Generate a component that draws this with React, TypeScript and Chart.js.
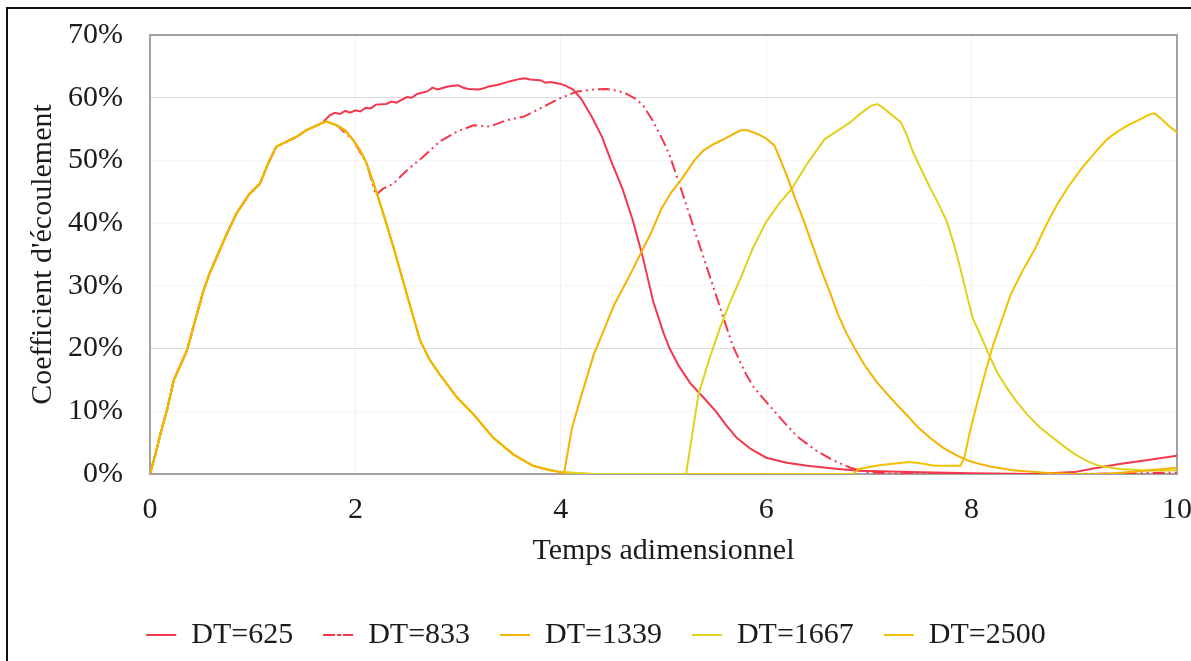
import React, { useEffect, useRef } from 'react';
import { Chart, registerables } from 'chart.js';

Chart.register(...registerables);

// ---- Labels & ticks ----
const seriesLabels = ['DT=625', 'DT=833', 'DT=1339', 'DT=1667', 'DT=2500'];
const seriesColors = ['#F4374C', '#F4374C', '#F3B300', '#E2D01E', '#F2C200'];
const xTickValues = [0, 2, 4, 6, 8, 10];
const xTickLabels = ['0', '2', '4', '6', '8', '10'];
const yTickValues = [0, 10, 20, 30, 40, 50, 60, 70];
const yTickLabels = ['0%', '10%', '20%', '30%', '40%', '50%', '60%', '70%'];
const xTitle = 'Temps adimensionnel';
const yTitle = "Coefficient d'écoulement";

// ---- Common initial rise (shared by all runs) ----
const riseX = [0, 0.05, 0.1, 0.17, 0.23, 0.3, 0.36, 0.44, 0.52, 0.58, 0.65, 0.74, 0.84, 0.97, 1.07, 1.15, 1.23, 1.33, 1.43, 1.52, 1.6, 1.68];
const riseY = [0, 3, 6.3, 10.5, 14.9, 17.5, 19.7, 24.5, 29.2, 32, 34.6, 38, 41.5, 44.7, 46.3, 49.5, 52.2, 53, 53.8, 54.8, 55.4, 56];

// ---- Common recession (DT=1339, 1667, 2500) ----
const fallX = [1.72, 1.82, 1.9, 1.98, 2.05, 2.11, 2.21, 2.3, 2.37, 2.5, 2.63, 2.72, 2.82, 2.99, 3.15, 3.34, 3.54, 3.73, 3.9, 4.0];
const fallY = [56.2, 55.6, 54.8, 53.2, 51.5, 49.5, 44.7, 40, 36.2, 28.7, 21.3, 18.3, 15.9, 12.2, 9.5, 5.8, 3.1, 1.3, 0.6, 0.3];

// ---- DT=625 ----
const dt625X = [1.75, 1.8, 1.85, 1.9, 1.95, 2.0, 2.05, 2.1, 2.15, 2.2, 2.3, 2.35, 2.4, 2.5, 2.55, 2.6, 2.7, 2.75, 2.8, 2.9, 3.0, 3.05, 3.1, 3.2, 3.25, 3.3, 3.4, 3.5, 3.6, 3.65, 3.7, 3.8, 3.85, 3.9, 4.0, 4.05, 4.12, 4.2, 4.3, 4.4, 4.5, 4.6, 4.7, 4.8, 4.9, 5.0, 5.06, 5.15, 5.26, 5.4, 5.51, 5.6, 5.71, 5.85, 6.0, 6.2, 6.4, 6.7, 6.9, 7.4, 8.0, 8.6, 9.0, 9.2, 9.44, 9.7, 10];
const dt625Y = [57.2, 57.6, 57.4, 57.9, 57.6, 58.0, 57.8, 58.4, 58.3, 58.9, 59.0, 59.4, 59.2, 60.1, 60.0, 60.6, 61.0, 61.6, 61.3, 61.8, 62.0, 61.6, 61.4, 61.3, 61.5, 61.8, 62.1, 62.6, 63.0, 63.1, 62.9, 62.8, 62.4, 62.5, 62.2, 61.9, 61.3, 59.8, 57, 53.8, 49.5, 45.5, 40.5, 34.5, 27.5, 22.5, 20, 17.2, 14.5, 12, 10, 8, 5.8, 4, 2.6, 1.8, 1.3, 0.8, 0.5, 0.3, 0.1, 0, 0.3, 0.9, 1.6, 2.2, 2.9];

// ---- DT=833 ----
const dt833X = [1.72, 1.82, 1.98, 2.11, 2.2, 2.27, 2.37, 2.5, 2.66, 2.82, 2.99, 3.15, 3.31, 3.47, 3.64, 3.8, 3.99, 4.16, 4.32, 4.45, 4.52, 4.62, 4.73, 4.8, 4.89, 5.0, 5.06, 5.18, 5.34, 5.51, 5.67, 5.8, 5.88, 6.0, 6.16, 6.3, 6.49, 6.65, 6.82, 6.98, 7.2, 8.0, 9.0, 10];
const dt833Y = [56.2, 55.6, 53.2, 49.5, 44.5, 45.5, 46.3, 48.4, 50.6, 53, 54.6, 55.6, 55.4, 56.4, 57, 58.3, 59.9, 61, 61.3, 61.4, 61.2, 60.8, 59.8, 58.8, 56.5, 53, 50.8, 45, 37, 28.6, 20.6, 16, 13.8, 11.5, 8.5, 6, 3.7, 2.2, 1, 0.3, 0.1, 0, 0, 0.2];

// ---- DT=1339 ----
const dt1339X = [4.03, 4.11, 4.2, 4.32, 4.42, 4.52, 4.65, 4.77, 4.88, 4.98, 5.08, 5.18, 5.3, 5.39, 5.5, 5.59, 5.68, 5.75, 5.82, 5.92, 6.0, 6.08, 6.14, 6.2, 6.28, 6.37, 6.45, 6.53, 6.62, 6.7, 6.78, 6.86, 6.96, 7.07, 7.17, 7.27, 7.38, 7.48, 7.6, 7.72, 7.85, 7.97, 8.1, 8.21, 8.4, 8.62, 8.8, 9.0, 9.3, 9.6, 10];
const dt1339Y = [0, 7.4, 12.5, 19, 23, 27, 31, 34.9, 38.5, 42.3, 45, 47.1, 50, 51.6, 52.7, 53.4, 54.2, 54.8, 54.8, 54.2, 53.5, 52.4, 50, 47.6, 44, 40.2, 36.5, 32.8, 29, 25.4, 22.5, 20.1, 17.3, 14.8, 12.9, 11.1, 9.2, 7.4, 5.7, 4.2, 3, 2.1, 1.5, 1.1, 0.6, 0.3, 0.1, 0, 0, 0.4, 1.0];

// ---- DT=1667 ----
const dt1667X = [4.3, 5.22, 5.34, 5.45, 5.55, 5.65, 5.75, 5.87, 6.0, 6.12, 6.25, 6.4, 6.57, 6.7, 6.82, 6.92, 7.02, 7.08, 7.13, 7.22, 7.31, 7.37, 7.43, 7.52, 7.6, 7.68, 7.76, 7.83, 7.89, 7.95, 8.01, 8.09, 8.17, 8.25, 8.34, 8.44, 8.54, 8.66, 8.79, 8.9, 9.0, 9.12, 9.24, 9.44, 9.65, 9.85, 10];
const dt1667Y = [0, 0, 12.7, 18.5, 23.3, 27.5, 31.2, 36, 40.2, 43, 45.5, 49.5, 53.4, 54.8, 56.1, 57.5, 58.7, 59, 58.5, 57.3, 56.1, 54, 51.3, 48.2, 45.5, 43, 40.2, 36.5, 32.8, 28.8, 24.9, 22, 19, 16.2, 13.8, 11.5, 9.5, 7.5, 5.8, 4.4, 3.2, 2.1, 1.3, 0.8, 0.6, 0.5, 0.6];

// ---- DT=2500 ----
const dt2500X = [4.3, 6.85, 6.9, 7.1, 7.39, 7.5, 7.64, 7.89, 7.93, 7.98, 8.05, 8.13, 8.21, 8.3, 8.38, 8.5, 8.62, 8.72, 8.83, 8.95, 9.07, 9.2, 9.32, 9.42, 9.52, 9.62, 9.73, 9.78, 9.85, 9.92, 10];
const dt2500Y = [0, 0, 0.8, 1.4, 1.9, 1.7, 1.3, 1.3, 2.6, 6.5, 11.1, 16, 20.6, 24.8, 28.6, 32.5, 36, 39.5, 42.9, 46, 48.7, 51.2, 53.4, 54.6, 55.6, 56.4, 57.3, 57.5, 56.6, 55.5, 54.5];

const toPoints = (xs: number[], ys: number[]) => xs.map((x, i) => ({ x, y: ys[i] }));

const FONT = '"Liberation Serif", "Times New Roman", Times, serif';
const TEXT = '#1b1b1b';

export default function App() {
  const ref = useRef<HTMLCanvasElement>(null);

  useEffect(() => {
    const canvas = ref.current;
    if (!canvas) return;

    const framePlugin = {
      id: 'frame',
      beforeDatasetsDraw(chart: any) {
        const { ctx, chartArea: a } = chart;
        ctx.save();
        ctx.strokeStyle = '#a2a2a2';
        ctx.lineWidth = 2;
        ctx.strokeRect(a.left, a.top, a.right - a.left, a.bottom - a.top);
        ctx.restore();
      },
    };

    const seriesData = [
      toPoints([...riseX, ...dt625X], [...riseY, ...dt625Y]),
      toPoints([...riseX, ...dt833X], [...riseY, ...dt833Y]),
      toPoints([...riseX, ...fallX, ...dt1339X], [...riseY, ...fallY, ...dt1339Y]),
      toPoints([...riseX, ...fallX, ...dt1667X], [...riseY, ...fallY, ...dt1667Y]),
      toPoints([...riseX, ...fallX, ...dt2500X], [...riseY, ...fallY, ...dt2500Y]),
    ];

    const chart = new Chart(canvas, {
      type: 'line',
      data: {
        datasets: seriesLabels.map((label, i) => ({
          label,
          data: seriesData[i],
          borderColor: seriesColors[i],
          backgroundColor: seriesColors[i],
          borderWidth: 2,
          borderDash: i === 1 ? [12, 4, 2, 4, 2, 4] : [],
          pointRadius: 0,
          tension: 0,
          fill: false,
          order: i < 2 ? 1 : 0,
        })),
      },
      options: {
        animation: false,
        responsive: false,
        events: [],
        layout: { padding: { top: 35, left: 0, right: 0, bottom: 0 } },
        plugins: {
          tooltip: { enabled: false },
          title: { display: false },
          legend: {
            display: true,
            position: 'bottom',
            labels: {
              boxWidth: 30,
              boxHeight: 0,
              padding: 30,
              color: TEXT,
              font: { family: FONT, size: 30 },
              sort: (a: any, b: any) => a.datasetIndex - b.datasetIndex,
            },
          },
        },
        scales: {
          x: {
            type: 'linear',
            min: 0,
            max: 10,
            afterBuildTicks: (s: any) => {
              s.ticks = xTickValues.map((v) => ({ value: v }));
            },
            afterFit: (s: any) => {
              s.height = 116;
            },
            ticks: {
              padding: 18,
              color: TEXT,
              font: { family: FONT, size: 30 },
              maxRotation: 0,
              callback: (_v: any, i: number) => xTickLabels[i],
            },
            grid: { drawTicks: false, color: 'rgba(0,0,0,0.05)' },
            border: { display: false },
            title: {
              display: true,
              text: xTitle,
              color: TEXT,
              font: { family: FONT, size: 30 },
              padding: { top: 0, bottom: 21 },
            },
          },
          y: {
            type: 'linear',
            min: 0,
            max: 70,
            afterBuildTicks: (s: any) => {
              s.ticks = yTickValues.map((v) => ({ value: v }));
            },
            afterFit: (s: any) => {
              s.width = 168;
              s.paddingTop = 0;
              s.paddingBottom = 0;
            },
            ticks: {
              padding: 27,
              color: TEXT,
              font: { family: FONT, size: 30 },
              callback: (_v: any, i: number) => yTickLabels[i],
            },
            grid: {
              drawTicks: false,
              color: (c: any) =>
                c.tick && (c.tick.value === 20 || c.tick.value === 60) ? '#dcdcdc' : 'rgba(0,0,0,0.035)',
            },
            border: { display: false },
            title: {
              display: true,
              text: yTitle,
              color: TEXT,
              font: { family: FONT, size: 30 },
              padding: { top: 43, bottom: 0 },
            },
          },
        },
      },
      plugins: [framePlugin],
    } as any);

    return () => chart.destroy();
  }, []);

  return (
    <div style={{ position: 'fixed', inset: 0, background: '#fff', overflow: 'hidden' }}>
      <canvas ref={ref} width={1228} height={660} style={{ position: 'absolute', left: -18, top: 0 }} />
      <div
        style={{
          position: 'absolute',
          left: 6,
          top: 7,
          width: 3000,
          height: 3000,
          borderLeft: '2px solid #111',
          borderTop: '2px solid #111',
          pointerEvents: 'none',
        }}
      />
    </div>
  );
}
